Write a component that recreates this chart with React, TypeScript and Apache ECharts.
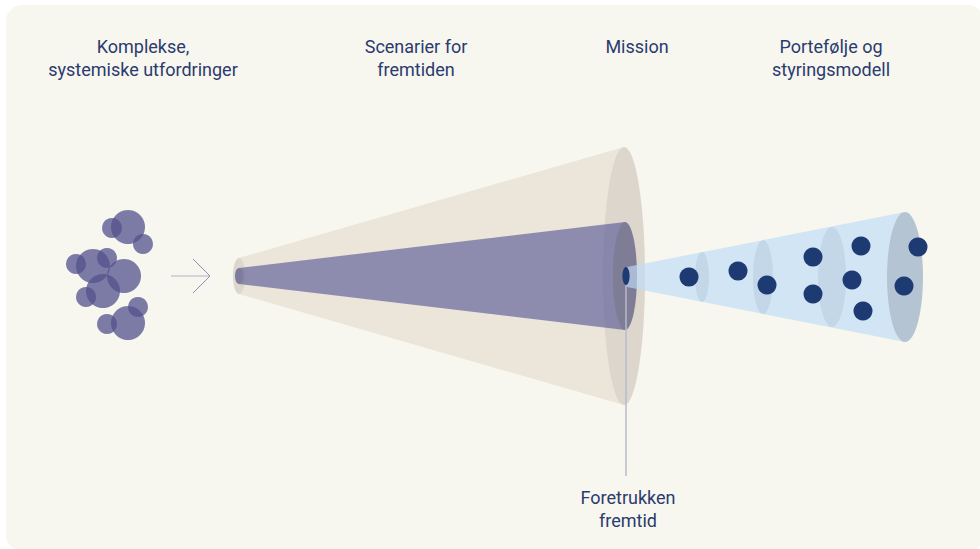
import React, { useEffect, useRef } from "react";
import * as echarts from "echarts";

const W = 980;
const H = 549;

// left cluster of bubbles
const bubbleX = [128, 112, 143, 93, 76, 107, 124, 103, 86, 128, 138, 107];
const bubbleY = [227, 228, 244, 266, 264, 258, 276, 291, 297, 323, 307, 324];
const bubbleR = [17, 10, 10, 17, 10, 10, 17, 17, 10, 17, 10, 10];

// arrow: [xStart, xEnd, y, headSize]
const arrowSpec = [171, 210, 276, 17];

// cones: [x0, x1, cy, ry0, ry1, rx0, rx1]
const scenarioCone = [239, 624, 276, 18, 129, 6, 21];
const missionCone = [239, 625, 276, 8, 54, 4, 12];
const portfolioCone = [627, 905, 277, 10, 65, 0, 18];

// intermediate stages in the portfolio cone
const stageX = [702, 763, 832];
const stageRx = [7, 10, 14];
const stageRy = [25, 37, 50];

// preferred future marker
const missionDot = [626, 276, 3.6, 9];
const pointerLine = [626, 276, 476];

// portfolio dots
const dotX = [689, 738, 767, 813, 813, 861, 852, 863, 918, 904];
const dotY = [277, 271, 285, 257, 294, 246, 280, 311, 247, 286];

// labels
const headerLabels = [
  "Komplekse,\nsystemiske utfordringer",
  "Scenarier for\nfremtiden",
  "Mission",
  "Portefølje og\nstyringsmodell",
];
const headerX = [143, 416, 637, 831];
const footLabel = "Foretrukken\nfremtid";
const footX = 628;

const TEXT = "#2a3b6e";
const FONT = "18px Roboto";

function coneSeries(spec: number[], body: string, leftEl: string, rightEl: string) {
  return {
    type: "custom",
    coordinateSystem: "cartesian2d",
    silent: true,
    data: [spec],
    renderItem: (params: any, api: any) => {
      const x0 = api.value(0), x1 = api.value(1), cy = api.value(2);
      const ry0 = api.value(3), ry1 = api.value(4), rx0 = api.value(5), rx1 = api.value(6);
      const p1 = api.coord([x0, cy - ry0]);
      const p2 = api.coord([x1, cy - ry1]);
      const p3 = api.coord([x1, cy + ry1]);
      const p4 = api.coord([x0, cy + ry0]);
      const c0 = api.coord([x0, cy]);
      const c1 = api.coord([x1, cy]);
      const s0 = api.size([rx0, ry0]);
      const s1 = api.size([rx1, ry1]);
      const children: any[] = [
        { type: "polygon", shape: { points: [p1, p2, p3, p4] }, style: { fill: body } },
      ];
      if (rx0 > 0) {
        children.push({ type: "ellipse", shape: { cx: c0[0], cy: c0[1], rx: s0[0], ry: s0[1] }, style: { fill: leftEl } });
      }
      children.push({ type: "ellipse", shape: { cx: c1[0], cy: c1[1], rx: s1[0], ry: s1[1] }, style: { fill: rightEl } });
      return { type: "group", children };
    },
  };
}

export default function App() {
  const ref = useRef<HTMLDivElement>(null);
  useEffect(() => {
    document.body.style.margin = "0";
    const chart = echarts.init(ref.current!, undefined, { renderer: "svg" });
    const textStyle = (t: string) => ({
      text: t,
      fill: TEXT,
      font: FONT,
      lineHeight: 23,
      align: "center",
      verticalAlign: "top",
    });
    const option: any = {
      animation: false,
      backgroundColor: "#ffffff",
      grid: { left: 0, right: 0, top: 0, bottom: 0 },
      xAxis: { type: "value", min: 0, max: W, show: false },
      yAxis: { type: "value", min: 0, max: H, inverse: true, show: false },
      graphic: [
        {
          type: "rect",
          z: -10,
          shape: { x: 6, y: 5, width: 978, height: 546, r: 16 },
          style: { fill: "#f7f6ef" },
          silent: true,
        },
        ...headerLabels.map((t, i) => ({
          type: "text",
          x: headerX[i],
          y: 35,
          style: textStyle(t),
        })),
        {
          type: "text",
          x: footX,
          y: 486,
          style: textStyle(footLabel),
        },
      ],
      series: [
        {
          type: "scatter",
          silent: true,
          data: bubbleX.map((x, i) => [x, bubbleY[i], bubbleR[i]]),
          symbolSize: (v: number[]) => v[2] * 2,
          itemStyle: { color: "#53528c", opacity: 0.75 },
        },
        {
          type: "custom",
          silent: true,
          data: [arrowSpec],
          renderItem: (params: any, api: any) => {
            const a = api.coord([api.value(0), api.value(2)]);
            const b = api.coord([api.value(1), api.value(2)]);
            const h = api.value(3);
            const t = api.coord([api.value(1) - h, api.value(2) - h]);
            const u = api.coord([api.value(1) - h, api.value(2) + h]);
            return {
              type: "group",
              children: [
                { type: "line", shape: { x1: a[0], y1: a[1], x2: b[0] - 1, y2: b[1] }, style: { stroke: "#c9c9d3", lineWidth: 1.5 } },
                { type: "polyline", shape: { points: [t, b, u] }, style: { stroke: "#8e92b4", lineWidth: 1, fill: "none" } },
              ],
            };
          },
        },
        coneSeries(scenarioCone, "#ebe5da", "#ddd6cc", "#ddd6cd"),
        coneSeries(missionCone, "rgba(90,90,150,0.65)", "#7e7c9c", "#7f7c96"),
        {
          type: "custom",
          silent: true,
          data: [pointerLine],
          renderItem: (params: any, api: any) => {
            const a = api.coord([api.value(0), api.value(1)]);
            const b = api.coord([api.value(0), api.value(2)]);
            return { type: "line", shape: { x1: a[0], y1: a[1], x2: b[0], y2: b[1] }, style: { stroke: "#b7bbc8", lineWidth: 1.5 } };
          },
        },
        coneSeries(portfolioCone, "rgba(191,220,247,0.65)", "#c8d8e8", "#b5c4d3"),
        {
          type: "custom",
          silent: true,
          data: stageX.map((x, i) => [x, portfolioCone[2], stageRx[i], stageRy[i]]),
          renderItem: (params: any, api: any) => {
            const c = api.coord([api.value(0), api.value(1)]);
            const s = api.size([api.value(2), api.value(3)]);
            return { type: "ellipse", shape: { cx: c[0], cy: c[1], rx: s[0], ry: s[1] }, style: { fill: "rgba(170,190,210,0.35)" } };
          },
        },
        {
          type: "custom",
          silent: true,
          data: [missionDot],
          renderItem: (params: any, api: any) => {
            const c = api.coord([api.value(0), api.value(1)]);
            const s = api.size([api.value(2), api.value(3)]);
            return { type: "ellipse", shape: { cx: c[0], cy: c[1], rx: s[0], ry: s[1] }, style: { fill: "#1e3a72" } };
          },
        },
        {
          type: "scatter",
          silent: true,
          data: dotX.map((x, i) => [x, dotY[i]]),
          symbolSize: 19,
          itemStyle: { color: "#1e3a72", opacity: 1 },
        },
      ],
    };
    chart.setOption(option);
    return () => chart.dispose();
  }, []);
  return <div ref={ref} style={{ width: W, height: H }} />;
}
